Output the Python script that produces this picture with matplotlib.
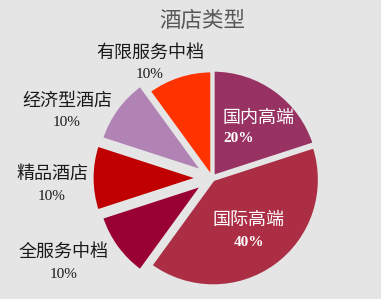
import matplotlib.pyplot as plt
import numpy as np

plt.rcParams['font.family'] = ['Liberation Serif', 'Noto Sans CJK SC']

# slice data, clockwise from 12 o'clock
categories = ["国内高端", "国际高端", "全服务中档", "精品酒店", "经济型酒店", "有限服务中档"]
values = [20, 40, 10, 10, 10, 10]
colors = ["#973263", "#ab2e44", "#990033", "#c00000", "#b183b5", "#ff3300"]
explode = [0.02, 0.02, 0.11, 0.13, 0.11, 0.01]

# label placement in pixel coords (x, y from top), inside labels in white
label_pos = [(223, 118), (249, 220), (64, 252), (52, 174), (67, 101), (150, 53)]
label_inside = [True, True, False, False, False, False]

W, H = 381, 299
bg = "#e5e5e5"
cx, cy, rad = 212, H - 178, 106

fig = plt.figure(figsize=(W / 100, H / 100), dpi=100, facecolor=bg)
ax = fig.add_axes([0, 0, 1, 1])
ax.set_facecolor(bg)

# pie's explode offset is in data units, so scale by the radius
ax.pie(values, colors=colors, explode=[e * rad for e in explode],
       startangle=90, counterclock=False,
       center=(cx, cy), radius=rad,
       wedgeprops=dict(edgecolor=bg, linewidth=2))
ax.set_xlim(0, W)
ax.set_ylim(0, H)
ax.set_aspect("equal")
ax.axis("off")

total = sum(values)
for name, v, (x, y), inside in zip(categories, values, label_pos, label_inside):
    pct = f"{v / total:.0%}"
    col = "white" if inside else "#1a1a1a"
    if inside and name == "国内高端":
        ax.text(x, H - y, name, ha="left", va="center", fontsize=13,
                color=col, family=["Noto Sans CJK SC"])
        ax.text(x, H - y - 21, pct, ha="left", va="center", fontsize=11,
                color=col, fontweight="bold")
    else:
        ax.text(x, H - y, name, ha="center", va="center", fontsize=13,
                color=col, family=["Noto Sans CJK SC"])
        ax.text(x, H - y - 22, pct, ha="center", va="center", fontsize=11,
                color=col, fontweight="bold" if inside else "normal")

ax.text(202, H - 21, "酒店类型", ha="center", va="center", fontsize=15.5,
        color="#595959", family=["Noto Sans CJK SC"])

fig.savefig("out.png", dpi=100, facecolor=bg)
